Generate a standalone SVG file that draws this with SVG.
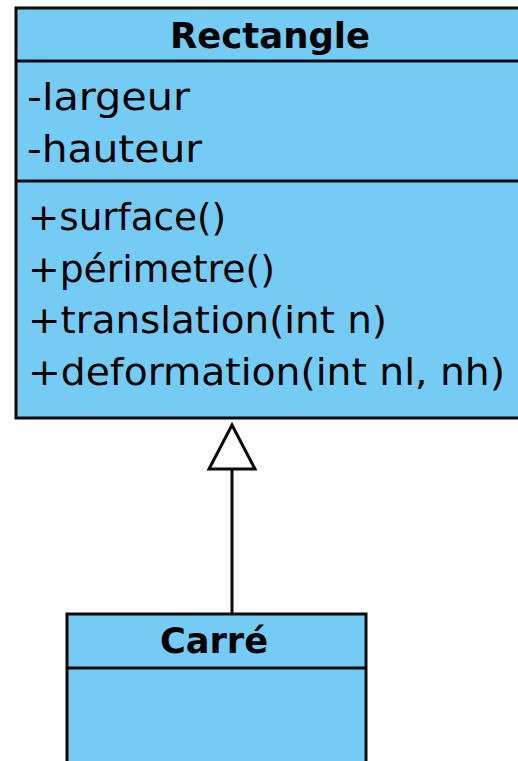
<svg xmlns="http://www.w3.org/2000/svg" width="518" height="761" viewBox="0 0 518 761">
  <defs>
    <style>
      .box { fill: #74ccf4; stroke: #0a0a0a; stroke-width: 3; }
      .sep { stroke: #0a0a0a; stroke-width: 3; }
      .title { font-family: "DejaVu Sans", "Liberation Sans", sans-serif; font-weight: bold; font-size: 36px; fill: #000; text-anchor: middle; }
      .member { font-family: "DejaVu Sans", "Liberation Sans", sans-serif; font-size: 38px; fill: #000; }
      .edge { stroke: #0a0a0a; stroke-width: 3; fill: none; }
      .head { fill: #fff; stroke: #0a0a0a; stroke-width: 3; stroke-linejoin: miter; }
    </style>
  </defs>
  <rect width="518" height="761" fill="#fff"/>

  <!-- class Rectangle -->
  <g id="rectangle">
    <rect class="box" x="16" y="8" width="512" height="410"/>
    <line class="sep" x1="16" y1="61" x2="528" y2="61"/>
    <line class="sep" x1="16" y1="181" x2="528" y2="181"/>
    <text class="title" x="270" y="48" textLength="200" lengthAdjust="spacingAndGlyphs">Rectangle</text>
    <text class="member" x="27" y="110" textLength="163" lengthAdjust="spacingAndGlyphs">-largeur</text>
    <text class="member" x="27" y="162" textLength="175" lengthAdjust="spacingAndGlyphs">-hauteur</text>
    <text class="member" x="28" y="230" textLength="198" lengthAdjust="spacingAndGlyphs">+surface()</text>
    <text class="member" x="28" y="282" textLength="247" lengthAdjust="spacingAndGlyphs">+périmetre()</text>
    <text class="member" x="28" y="333" textLength="359" lengthAdjust="spacingAndGlyphs">+translation(int n)</text>
    <text class="member" x="28" y="385" textLength="477" lengthAdjust="spacingAndGlyphs">+deformation(int nl, nh)</text>
  </g>

  <!-- class Carré -->
  <g id="carre">
    <rect class="box" x="67" y="614" width="299" height="160"/>
    <line class="sep" x1="67" y1="668" x2="366" y2="668"/>
    <text class="title" x="214" y="653" textLength="108" lengthAdjust="spacingAndGlyphs">Carré</text>
  </g>

  <!-- generalization: Carré extends Rectangle -->
  <g id="connectors">
    <line class="edge" x1="232" y1="614" x2="232" y2="469"/>
    <polygon class="head" points="232,425 255,469 209,469"/>
  </g>
</svg>
